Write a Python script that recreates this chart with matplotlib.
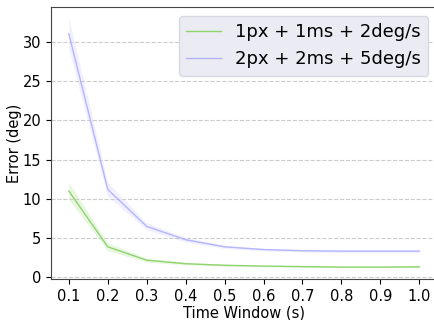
import matplotlib
matplotlib.use("Agg")
import matplotlib.pyplot as plt
import numpy as np

windows = [0.1, 0.2, 0.3, 0.4, 0.5, 0.6, 0.7, 0.8, 0.9, 1.0]
labels = ["1px + 1ms + 2deg/s", "2px + 2ms + 5deg/s"]
err_small = [11.0, 3.9, 2.2, 1.75, 1.55, 1.45, 1.38, 1.32, 1.32, 1.35]
band_small = [1.1, 0.5, 0.25, 0.15, 0.12, 0.1, 0.1, 0.1, 0.1, 0.1]
err_large = [31.0, 11.2, 6.5, 4.8, 3.9, 3.55, 3.4, 3.35, 3.35, 3.35]
band_large = [2.0, 0.9, 0.45, 0.3, 0.2, 0.15, 0.15, 0.15, 0.15, 0.15]
colors = ["#8ed46b", "#b4b4ff"]

fig = plt.figure(figsize=(4.35, 3.2), dpi=100)
ax = fig.add_axes([0.117, 0.128, 0.888, 0.85])

for y, b, c, lab in zip([err_small, err_large], [band_small, band_large], colors, labels):
    y = np.array(y)
    b = np.array(b)
    ax.plot(windows, y, color=c, lw=1.0, label=lab)
    ax.fill_between(windows, y - b, y + b, color=c, alpha=0.2, lw=0)

ax.set_xlim(0.054, 1.046)
ax.set_ylim(-0.2, 34.4)
ax.set_xticks(windows)
ax.set_yticks([0, 5, 10, 15, 20, 25, 30])
ax.tick_params(labelsize=10.5)
ax.set_xlabel("Time Window (s)", fontsize=10.5, labelpad=1)
ax.set_ylabel("Error (deg)", fontsize=10.5, labelpad=0)
ax.grid(axis="y", linestyle="--", color="#cccccc", lw=0.8)
for s in ax.spines.values():
    s.set_color("#444444")
leg = ax.legend(fontsize=13, loc="upper right", handlelength=1.9,
                facecolor="#ebebf3", edgecolor="#d8d8e0", framealpha=1.0)
fig.savefig("out.png", dpi=100)
